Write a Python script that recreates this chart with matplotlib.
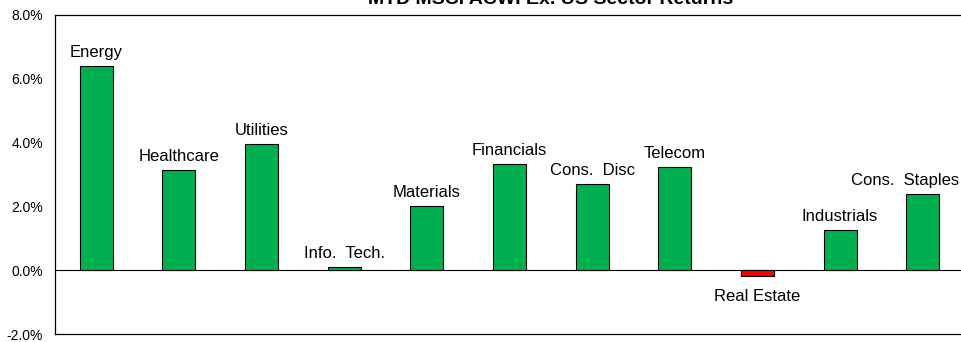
import matplotlib.pyplot as plt
from matplotlib.ticker import FuncFormatter

plt.rcParams['font.family'] = ['Liberation Sans', 'DejaVu Sans']

sectors = ["Energy", "Healthcare", "Utilities", "Info.  Tech.", "Materials",
           "Financials", "Cons.  Disc", "Telecom", "Real Estate", "Industrials",
           "Cons.  Staples"]
returns = [6.39, 3.13, 3.95, 0.09, 2.00, 3.32, 2.70, 3.23, -0.19, 1.25, 2.38]

W, H = 962, 342
fig = plt.figure(figsize=(W / 100, H / 100), dpi=100)
ax = fig.add_axes([55 / W, 8 / H, 909 / W, 319 / H])

x = list(range(len(sectors)))
colors = ["#00B050" if v >= 0 else "#FF0000" for v in returns]
ax.bar(x, returns, width=0.4, color=colors, edgecolor="black", linewidth=0.8, zorder=3)
ax.axhline(0, color="black", linewidth=0.8, zorder=2)

labels = []
for xi, v, name in zip(x, returns, sectors):
    dy = 6.5 if v >= 0 else -18
    t = ax.annotate(name, (xi, v), xytext=(0, dy), textcoords="offset points",
                    ha="center", va="baseline", fontsize=12)
    labels.append(t)

ax.set_xlim(-0.5, len(sectors) - 0.5)
ax.set_ylim(-2, 8)
ax.set_yticks([-2, 0, 2, 4, 6, 8])
ax.yaxis.set_major_formatter(FuncFormatter(lambda v, p: f"{v:.1f}%"))
ax.set_xticks([])
ax.tick_params(axis="y", length=0, pad=8.5, labelsize=10)
for s in ax.spines.values():
    s.set_linewidth(0.9)

fig.text(551 / W, 1 - 4.5 / H, "MTD MSCI ACWI Ex. US Sector Returns", ha="center",
         va="baseline", fontsize=14, fontweight="bold")

# keep data labels inside the figure's right edge
fig.canvas.draw()
renderer = fig.canvas.get_renderer()
for t in labels:
    bb = t.get_window_extent(renderer)
    over = bb.x1 - (W - 3)
    if over > 0:
        ox, oy = t.get_position() if t.xyann is None else t.xyann
        t.xyann = (ox - over * 72 / 100, oy)

fig.savefig("out.png", dpi=100)
